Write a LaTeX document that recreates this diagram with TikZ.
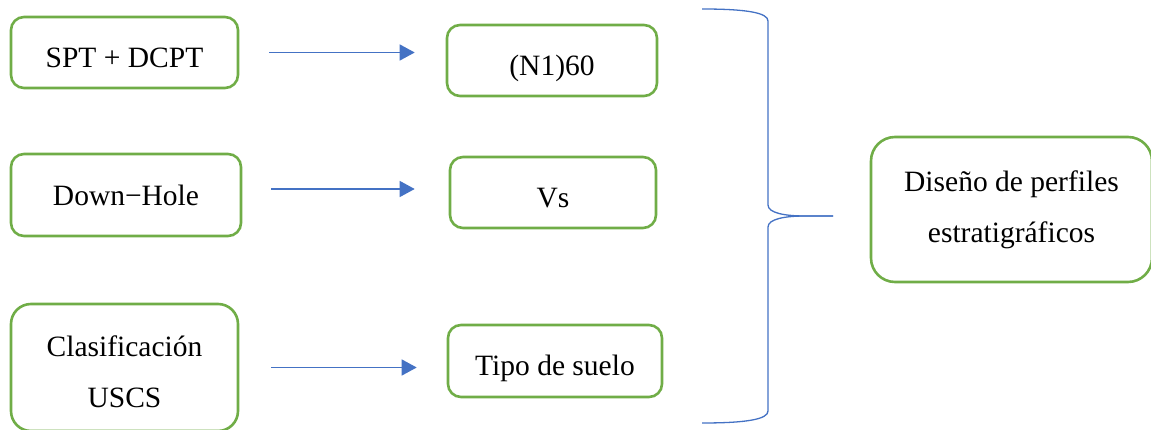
\documentclass[tikz,border=0pt]{standalone}
\usepackage{fontspec}
\setmainfont{Liberation Serif}
\usetikzlibrary{arrows.meta}
\definecolor{boxgreen}{HTML}{70AD47}
\definecolor{arrblue}{HTML}{4472C4}
\begin{document}
\begin{tikzpicture}[x=1pt,y=-1pt,
  box/.style={draw=boxgreen, line width=2.6pt, rounded corners=13pt,
    inner sep=0pt, font=\fontsize{29.5}{51}\selectfont},
  lowtext/.style={text height=30pt, text depth=0.5pt},
  twoline/.style={align=center},
  arr/.style={draw=arrblue, line width=1.4pt, -{Triangle[length=15pt,width=16pt]}},
  brace/.style={draw=arrblue, line width=1.3pt}]
\useasboundingbox (0,0) rectangle (1151,430);
% left column
\node[box, lowtext, minimum width=227pt, minimum height=71pt] (spt) at (124.5,52.5) {SPT + DCPT};
\node[box, minimum width=230pt, minimum height=82pt] (dh) at (126,195) {Down−Hole};
\node[box, twoline, minimum width=227pt, minimum height=127pt, rounded corners=20pt] (uscs) at (124.5,367.5)
  {\rule{0pt}{30pt}Clasificación\\USCS};
% middle column
\node[box, lowtext, minimum width=210pt, minimum height=71pt] (n1) at (552,60.5) {(N1)60};
\node[box, lowtext, minimum width=206pt, minimum height=71pt] (vs) at (553,192.5) {Vs};
\node[box, lowtext, minimum width=214pt, minimum height=72pt] (tipo) at (555,361) {Tipo de suelo};
% right box
\node[box, twoline, minimum width=281pt, minimum height=145pt, rounded corners=24pt] (dis) at (1011.5,209.5)
  {Diseño de perfiles\\estratigráficos};
% arrows
\draw[arr, shorten <=30pt, shorten >=31pt] (spt.east) -- (spt.east -| n1.west);
\draw[arr, shorten <=29pt, shorten >=34pt] (dh.east) ++(0,-6) coordinate (dhs) (dhs) -- (dhs -| vs.west);
\draw[arr, shorten <=32pt, shorten >=30pt] (uscs.east) -- (uscs.east -| tipo.west);
% brace
\coordinate (btop) at (702,9);
\coordinate (btip) at (833,216);
\coordinate (bbot) at (702,423);
\draw[brace] (btop) .. controls (748,9) and (768,13) .. (768,21) -- (768,205)
  .. controls (768,213) and (785,216) .. (805,216) -- (btip);
\draw[brace] (btip) -- (805,216) .. controls (785,216) and (768,219) .. (768,227) -- (768,411)
  .. controls (768,419) and (748,423) .. (bbot);
\end{tikzpicture}
\end{document}
